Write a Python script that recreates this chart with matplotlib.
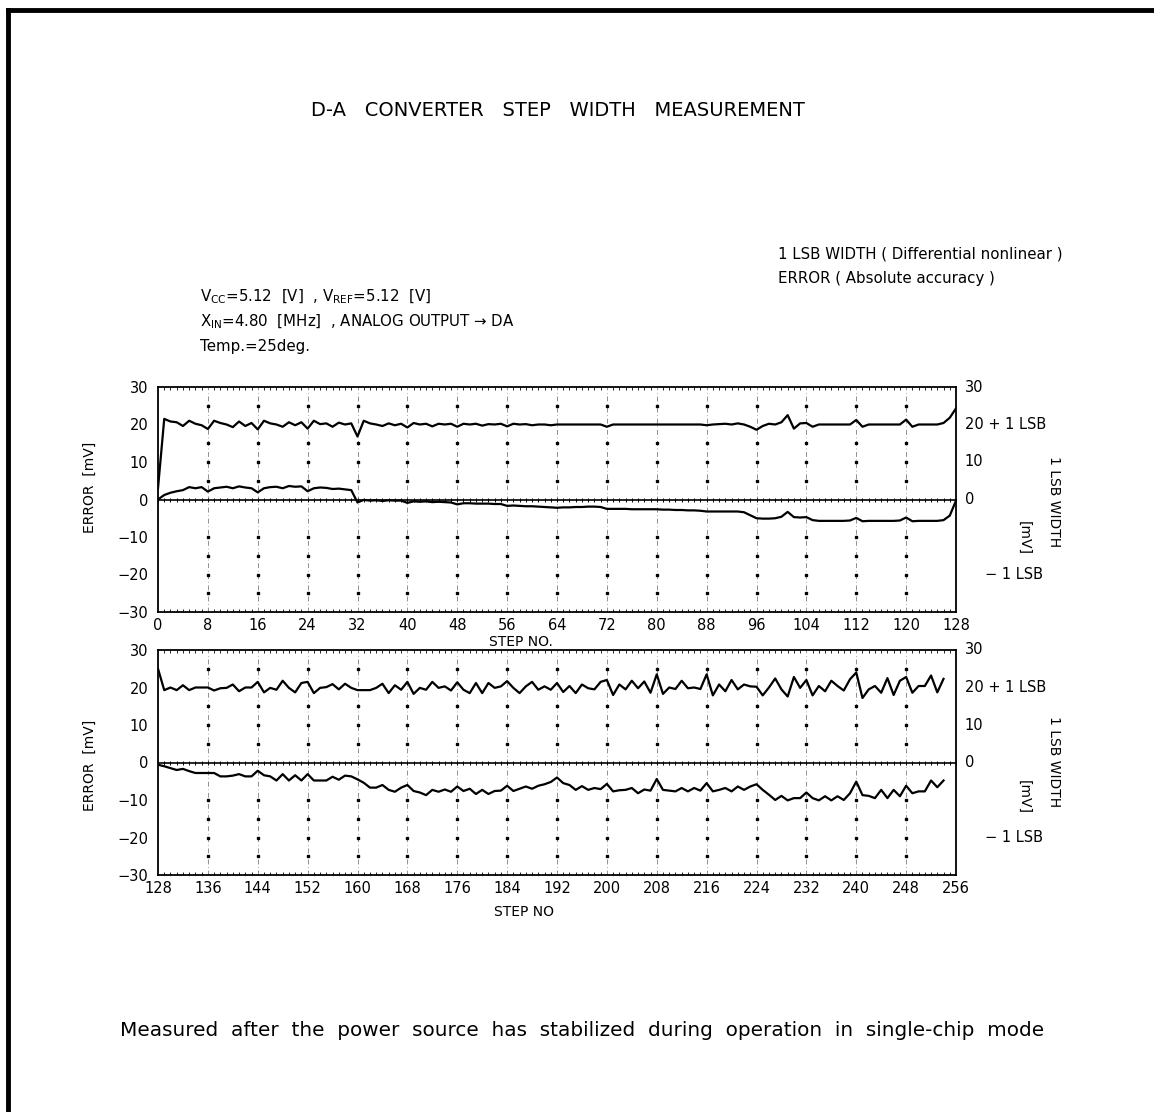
import numpy as np
import matplotlib
matplotlib.use("Agg")
import matplotlib.pyplot as plt

plt.rcParams['font.family'] = ['DejaVu Sans']
plt.rcParams['mathtext.default'] = 'regular'

W, H = 1154, 1112

# Upper chart: steps 0..128
steps_a = list(range(0, 129))
lsb_a = [3.0, 21.5, 20.8, 20.6, 19.6, 21.0, 20.2, 19.8, 18.8, 21.0,
         20.4, 20.0, 19.3, 20.8, 19.6, 20.4, 18.7, 21.0, 20.3, 20.0,
         19.4, 20.6, 19.8, 20.6, 18.9, 21.0, 20.1, 20.3, 19.4, 20.5,
         20.0, 20.3, 16.8, 21.0, 20.3, 20.0, 19.6, 20.3, 19.8, 20.2,
         19.2, 20.4, 20.0, 20.2, 19.5, 20.2, 20.0, 20.2, 19.4, 20.2,
         20.0, 20.2, 19.7, 20.1, 20.0, 20.2, 19.5, 20.2, 20.0, 20.1,
         19.8, 20.0, 20.0, 19.8, 20.0, 20.0, 20.0, 20.0, 20.0, 20.0,
         20.0, 20.0, 19.4, 20.0, 20.0, 20.0, 20.0, 20.0, 20.0, 20.0,
         20.0, 20.0, 20.0, 20.0, 20.0, 20.0, 20.0, 20.0, 19.8, 20.0,
         20.1, 20.2, 20.0, 20.3, 20.0, 19.4, 18.6, 19.6, 20.2, 20.0,
         20.6, 22.5, 18.9, 20.3, 20.4, 19.4, 20.0, 20.0, 20.0, 20.0,
         20.0, 20.0, 21.2, 19.4, 20.0, 20.0, 20.0, 20.0, 20.0, 20.0,
         21.3, 19.4, 20.0, 20.0, 20.0, 20.0, 20.4, 21.8, 24.3]
err_a = [0.0, 1.2, 1.8, 2.2, 2.5, 3.3, 3.0, 3.3, 2.1, 3.0,
         3.2, 3.4, 3.0, 3.5, 3.2, 3.0, 1.9, 3.0, 3.3, 3.4,
         3.0, 3.6, 3.4, 3.5, 2.2, 3.0, 3.2, 3.1, 2.8, 2.9,
         2.7, 2.5, -0.8, -0.1, -0.3, -0.2, -0.4, -0.2, -0.3, -0.3,
         -0.9, -0.5, -0.6, -0.5, -0.7, -0.6, -0.7, -0.8, -1.3, -1.0,
         -1.0, -1.1, -1.1, -1.1, -1.2, -1.2, -1.7, -1.6, -1.7, -1.8,
         -1.8, -1.9, -2.0, -2.1, -2.2, -2.1, -2.1, -2.0, -2.0, -1.9,
         -1.9, -2.0, -2.5, -2.5, -2.5, -2.5, -2.6, -2.6, -2.6, -2.6,
         -2.6, -2.7, -2.7, -2.8, -2.8, -2.9, -2.9, -3.0, -3.2, -3.2,
         -3.2, -3.2, -3.2, -3.2, -3.4, -4.2, -5.0, -5.1, -5.1, -5.0,
         -4.6, -3.3, -4.7, -4.8, -4.7, -5.5, -5.7, -5.7, -5.7, -5.7,
         -5.7, -5.6, -4.9, -5.8, -5.7, -5.7, -5.7, -5.7, -5.7, -5.6,
         -4.8, -5.8, -5.7, -5.7, -5.7, -5.7, -5.5, -4.3, -0.3]

# Lower chart: steps 128..254
steps_b = list(range(128, 255))
lsb_b = [25.0, 19.3, 20.0, 19.3, 20.6, 19.3, 20.0, 20.0, 20.0, 19.2,
         19.8, 19.9, 20.8, 19.0, 20.0, 20.0, 21.5, 18.7, 19.9, 19.4,
         21.8, 19.9, 18.7, 21.2, 21.5, 18.5, 19.9, 20.1, 20.9, 19.5,
         21.0, 19.9, 19.3, 19.3, 19.3, 19.9, 21.0, 18.5, 20.6, 19.4,
         21.5, 18.3, 19.9, 19.4, 21.5, 19.9, 20.3, 19.2, 21.4, 19.4,
         18.5, 21.2, 18.5, 21.2, 19.9, 20.3, 21.7, 19.9, 18.5, 20.3,
         21.5, 19.4, 20.3, 19.4, 21.2, 18.8, 20.4, 18.5, 20.8, 19.8,
         19.5, 21.5, 22.0, 18.0, 20.8, 19.5, 21.8, 19.8, 21.6, 18.6,
         23.5, 18.3, 20.0, 19.6, 21.8, 19.8, 20.0, 19.6, 23.5, 17.9,
         20.8, 19.0, 22.0, 19.5, 20.8, 20.3, 20.2, 17.9, 20.0, 22.4,
         19.5, 17.6, 22.8, 19.9, 22.0, 17.9, 20.4, 19.0, 21.8, 20.4,
         19.2, 22.2, 24.0, 17.2, 19.5, 20.4, 18.6, 22.5, 18.0, 21.8,
         22.8, 18.6, 20.4, 20.4, 23.2, 18.7, 22.3]
err_b = [-0.6, -1.0, -1.5, -2.0, -1.7, -2.3, -2.8, -2.8, -2.8, -2.8,
         -3.7, -3.7, -3.5, -3.1, -3.7, -3.7, -2.2, -3.4, -3.7, -4.8,
         -3.1, -4.8, -3.4, -4.8, -3.1, -4.8, -4.8, -4.8, -3.8, -4.6,
         -3.5, -3.7, -4.5, -5.4, -6.7, -6.7, -6.0, -7.3, -7.8, -6.7,
         -6.0, -7.6, -8.0, -8.7, -7.3, -7.8, -7.2, -7.8, -6.4, -7.6,
         -7.0, -8.4, -7.3, -8.4, -7.6, -7.5, -6.2, -7.6, -7.0, -6.4,
         -7.0, -6.2, -5.8, -5.2, -4.0, -5.5, -6.0, -7.3, -6.3, -7.3,
         -6.8, -7.1, -5.7, -7.7, -7.4, -7.3, -6.8, -8.2, -7.2, -7.5,
         -4.4, -7.3, -7.5, -7.7, -6.8, -7.7, -6.8, -7.5, -5.5, -7.7,
         -7.3, -6.8, -7.7, -6.4, -7.3, -6.4, -5.8, -7.3, -8.6, -10.0,
         -8.9, -10.1, -9.5, -9.5, -8.0, -9.5, -10.1, -9.0, -10.1, -9.0,
         -10.0, -8.2, -5.1, -8.7, -8.9, -9.5, -7.3, -9.5, -7.3, -9.0,
         -6.2, -8.2, -7.7, -7.7, -4.8, -6.6, -4.8]

left_ticks = [30, 20, 10, 0, -10, -20, -30]
left_labels = ['30', '20', '10', '0', '\u221210', '\u221220', '\u221230']


def px(x, y):
    return x / W, 1 - y / H


def draw_panel(ax, steps, lsb, err, x0):
    x1 = x0 + 128
    ax.set_xlim(x0, x1)
    ax.set_ylim(-30, 30)

    # grid: dash-dot verticals every 8 steps, dots at the 5 mV levels
    for gx in range(x0 + 8, x1, 8):
        ax.axvline(gx, color='0.4', lw=0.5, ls=(0, (7, 4, 1, 4)), zorder=1)
        for gy in (25, 15, 10, 5, -10, -15, -20, -25):
            ax.plot(gx, gy, marker='s', ms=1.5, color='black', zorder=2)
    ax.axhline(0, color='black', lw=1.2, zorder=2)
    ax.plot(range(x0, x1 + 1), [0] * 129, ls='none', marker='|', ms=3,
            mew=0.7, color='black', zorder=2)

    ax.plot(steps, lsb, color='black', lw=1.6, zorder=3)
    ax.plot(steps, err, color='black', lw=1.6, zorder=3)

    ax.set_xticks(range(x0, x1 + 1, 8))
    ax.set_xticks(range(x0, x1 + 1), minor=True)
    ax.set_yticks(left_ticks)
    ax.set_yticklabels(left_labels)
    ax.tick_params(axis='y', which='major', length=0, labelsize=10.5, pad=7)
    ax.tick_params(axis='x', which='major', length=0, labelsize=10.5, pad=4)
    ax.tick_params(axis='x', which='minor', direction='in', length=2,
                   width=0.6, top=True, bottom=True)
    for s in ax.spines.values():
        s.set_linewidth(1.3)

    # right-hand scale
    tr = ax.get_yaxis_transform()
    for val, lab, xo in [(30, '30', 1.011), (20, '20 + 1 LSB', 1.011),
                         (10, '10', 1.011), (0, '0', 1.011),
                         (-20, '\u2212 1 LSB', 1.036)]:
        ax.text(xo, val, lab, transform=tr, ha='left', va='center',
                fontsize=10.5)


fig = plt.figure(figsize=(W / 100, H / 100), dpi=100)

ax1 = fig.add_axes([158 / W, 1 - 612 / H, 798 / W, 225 / H])
ax2 = fig.add_axes([158 / W, 1 - 875 / H, 798 / W, 225 / H])
draw_panel(ax1, steps_a, lsb_a, err_a, 0)
draw_panel(ax2, steps_b, lsb_b, err_b, 128)

# axis titles
fig.text(*px(521, 642), 'STEP NO.', ha='center', va='center', fontsize=10)
fig.text(*px(524, 912), 'STEP NO', ha='center', va='center', fontsize=10)
for yc in (487, 765):
    fig.text(*px(90, yc), 'ERROR  [mV]', rotation=90, ha='center',
             va='center', fontsize=10)
for yc, ym in ((502, 538), (762, 797)):
    fig.text(*px(1054, yc), '1 LSB WIDTH', rotation=270, ha='center',
             va='center', fontsize=10)
    fig.text(*px(1024, ym), '[mV]', rotation=270, ha='center',
             va='center', fontsize=10)

# headings and notes
fig.text(*px(558, 111), 'D-A   CONVERTER   STEP   WIDTH   MEASUREMENT',
         ha='center', va='center', fontsize=14)
fig.text(*px(778, 254), '1 LSB WIDTH ( Differential nonlinear )',
         ha='left', va='center', fontsize=10.8)
fig.text(*px(778, 279), 'ERROR ( Absolute accuracy )',
         ha='left', va='center', fontsize=10.8)
fig.text(*px(200, 297), 'V$_{CC}$=5.12  [V]  , V$_{REF}$=5.12  [V]',
         ha='left', va='center', fontsize=10.8)
fig.text(*px(200, 322), 'X$_{IN}$=4.80  [MHz]  , ANALOG OUTPUT \u2192 DA',
         ha='left', va='center', fontsize=10.8)
fig.text(*px(200, 346), 'Temp.=25deg.', ha='left', va='center',
         fontsize=10.8)
fig.text(*px(120, 1031),
         'Measured  after  the  power  source  has  stabilized  during  '
         'operation  in  single-chip  mode',
         ha='left', va='center', fontsize=14.4)

# page frame (top and left edges)
fig.add_artist(plt.Line2D([8 / W, 1], [1 - 10 / H, 1 - 10 / H],
                          color='black', lw=3.5))
fig.add_artist(plt.Line2D([8 / W, 8 / W], [0, 1 - 10 / H],
                          color='black', lw=3.5))

fig.savefig('out.png', dpi=100)
